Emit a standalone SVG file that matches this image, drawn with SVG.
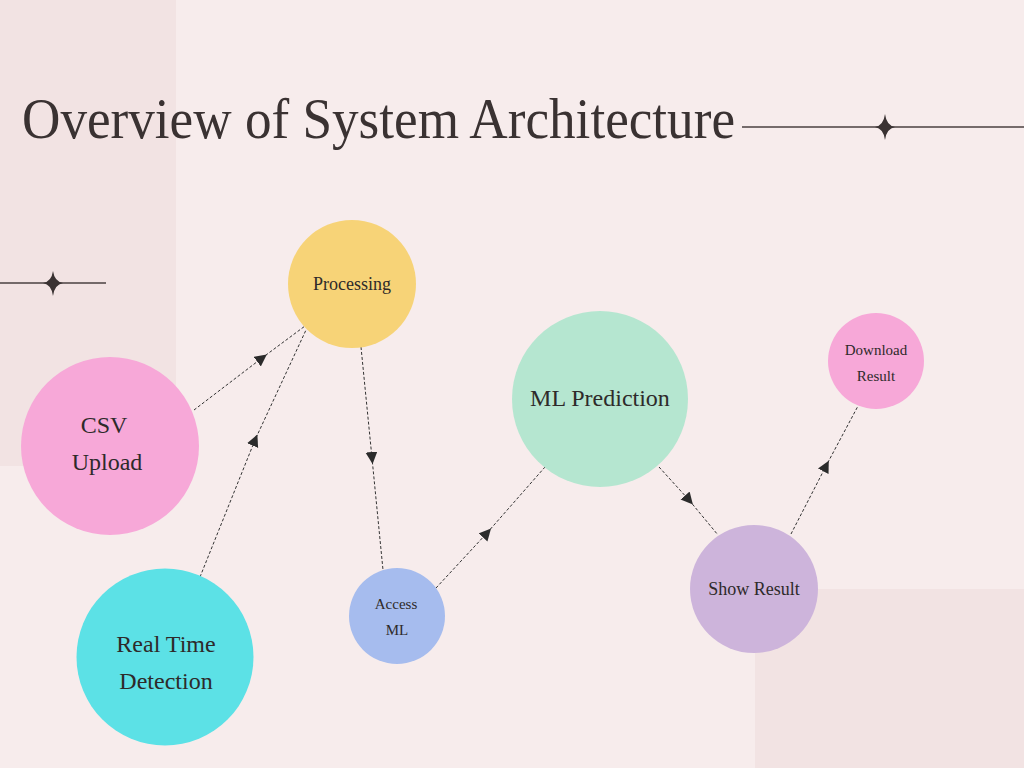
<svg xmlns="http://www.w3.org/2000/svg" width="1024" height="768" viewBox="0 0 1024 768">
<defs>
<style>
.bg{fill:#F7ECEC}
.panel{fill:#F2E3E3}
.rule{stroke:#4a4040;stroke-width:1.3;fill:none}
.star{fill:#3a3232}
.conn{stroke:#333;stroke-width:1;stroke-dasharray:3 2;fill:none;marker-mid:url(#arr)}
.lbl{font-family:"Liberation Serif","DejaVu Serif",serif;fill:#2e2a2a;text-anchor:middle}
.title{font-family:"Liberation Serif","DejaVu Serif",serif;fill:#3a3232;font-size:56px}
</style>
<marker id="arr" markerUnits="userSpaceOnUse" markerWidth="14" markerHeight="14" refX="6" refY="6" orient="auto">
<path d="M0,0 L12,6 L0,12 z" fill="#2b2b2b"/>
</marker>
</defs>
<rect class="bg" x="0" y="0" width="1024" height="768"/>
<rect class="panel" x="0" y="0" width="176" height="466"/>
<rect class="panel" x="755" y="589" width="269" height="179"/>

<text class="title" x="22" y="138" textLength="713" lengthAdjust="spacingAndGlyphs">Overview of System Architecture</text>
<line class="rule" x1="742" y1="127" x2="1024" y2="127"/>
<path class="star" d="M885 114 Q886.5 125.5 895 127 Q886.5 128.5 885 140 Q883.5 128.5 875 127 Q883.5 125.5 885 114 Z"/>
<line class="rule" x1="0" y1="283" x2="106" y2="283"/>
<path class="star" d="M53 271 Q54.5 281.5 63 283 Q54.5 284.5 53 296 Q51.5 284.5 43 283 Q51.5 281.5 53 271 Z"/>

<g id="connectors">
<path class="conn" d="M194 410 L262 358 L305 326"/>
<path class="conn" d="M200 577 L255 440 L306 330"/>
<path class="conn" d="M361 347 L372 458 L383 570"/>
<path class="conn" d="M436 588 L487 533 L545 467"/>
<path class="conn" d="M659 467 L689 500 L718 535"/>
<path class="conn" d="M791 534 L826 466 L858 406"/>
</g>

<g id="processing">
<circle cx="352" cy="284" r="64" fill="#F7D377"/>
<text class="lbl" x="352" y="290" font-size="18">Processing</text>
</g>
<g id="csv-upload">
<circle cx="110" cy="446" r="89" fill="#F7A8D8"/>
<text class="lbl" x="104" y="433" font-size="24">CSV</text>
<text class="lbl" x="107" y="470" font-size="24">Upload</text>
</g>
<g id="real-time-detection">
<circle cx="165" cy="657" r="88.5" fill="#5CE1E6"/>
<text class="lbl" x="166" y="652" font-size="24">Real Time</text>
<text class="lbl" x="166" y="689" font-size="24">Detection</text>
</g>
<g id="access-ml">
<circle cx="397" cy="616" r="48" fill="#A6BCEE"/>
<text class="lbl" x="396" y="609" font-size="15">Access</text>
<text class="lbl" x="397" y="635" font-size="15">ML</text>
</g>
<g id="ml-prediction">
<circle cx="600" cy="399" r="88" fill="#B5E6D0"/>
<text class="lbl" x="600" y="406" font-size="24">ML Prediction</text>
</g>
<g id="show-result">
<circle cx="754" cy="589" r="64" fill="#CDB4DB"/>
<text class="lbl" x="754" y="595" font-size="18">Show Result</text>
</g>
<g id="download-result">
<circle cx="876" cy="361" r="48" fill="#F7A8D8"/>
<text class="lbl" x="876" y="355" font-size="15">Download</text>
<text class="lbl" x="876" y="381" font-size="15">Result</text>
</g>
</svg>
